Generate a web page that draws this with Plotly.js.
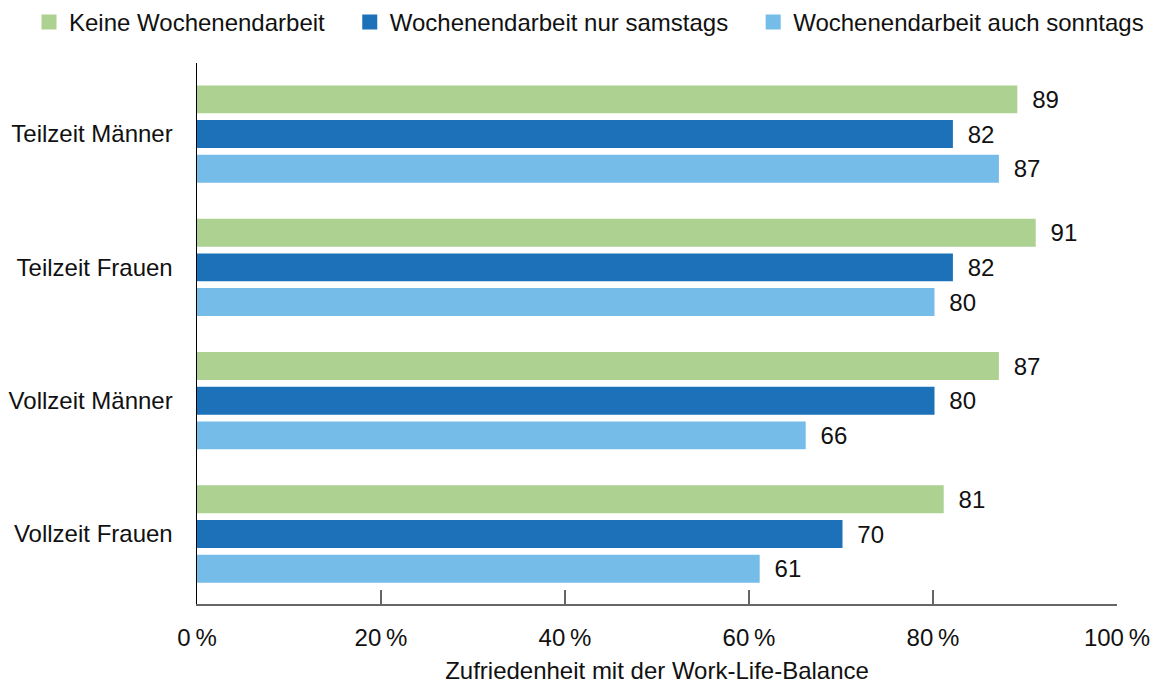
<!DOCTYPE html>
<html>
<head>
<meta charset="utf-8">
<script src="https://cdn.plot.ly/plotly-3.0.1.min.js"></script>
<style>
  html, body { margin: 0; padding: 0; background: #fff; }
  #chart { width: 1157px; height: 686px; }
</style>
</head>
<body>
<div id="chart"></div>
<script>
  var gruppen = ['Teilzeit Männer', 'Teilzeit Frauen', 'Vollzeit Männer', 'Vollzeit Frauen'];
  var keine = [89, 91, 87, 81];       // Keine Wochenendarbeit
  var samstags = [82, 82, 80, 70];    // Wochenendarbeit nur samstags
  var sonntags = [87, 80, 66, 61];    // Wochenendarbeit auch sonntags
  var xTicks = [0, 20, 40, 60, 80, 100];

  var schrift = '"Liberation Sans", Arial, sans-serif';
  var nb = '\u00a0'; // etwas mehr Luft zwischen den Legendeneinträgen

  function balken(name, werte, farbe) {
    return {
      type: 'bar',
      orientation: 'h',
      name: name,
      y: gruppen,
      x: werte,
      // Rand in gleicher Farbe -> größere Legendenquadrate
      marker: {color: farbe, line: {color: farbe, width: 3}},
      text: werte.map(function (v) { return nb + nb + v; }),
      textposition: 'outside',
      constraintext: 'none',
      cliponaxis: false,
      textfont: {family: schrift, size: 24, color: '#111'},
      hoverinfo: 'x+name'
    };
  }

  var data = [
    balken('Keine Wochenendarbeit' + nb + nb + nb, keine, '#ADD191'),
    balken('Wochenendarbeit nur samstags' + nb + nb + nb, samstags, '#1D71B8'),
    balken('Wochenendarbeit auch sonntags', sonntags, '#75BDE8')
  ];

  var layout = {
    width: 1157,
    height: 686,
    margin: {l: 197, r: 40, t: 63, b: 82, autoexpand: false},
    paper_bgcolor: '#fff',
    plot_bgcolor: '#fff',
    font: {family: schrift, size: 24, color: '#111'},
    barmode: 'group',
    bargap: 0.22,
    bargroupgap: 0.28,
    showlegend: true,
    legend: {
      orientation: 'h',
      xref: 'paper', x: -0.1826, xanchor: 'left',
      yref: 'paper', y: 1.1165, yanchor: 'top',
      font: {family: schrift, size: 24, color: '#111'},
      traceorder: 'normal'
    },
    xaxis: {
      range: [0, 100],
      tickvals: xTicks,
      ticktext: xTicks.map(function (v) { return v + '\u2009%'; }),
      ticks: 'inside',
      ticklen: 14,
      tickcolor: '#666',
      tickwidth: 1.5,
      showline: true,
      linecolor: '#666',
      linewidth: 1.5,
      showgrid: false,
      zeroline: false,
      ticklabelstandoff: 12,
      title: {text: 'Zufriedenheit mit der Work-Life-Balance', font: {size: 24}, standoff: 12}
    },
    yaxis: {
      type: 'category',
      categoryorder: 'array',
      categoryarray: gruppen,
      range: [3.525, -0.533],
      showline: true,
      linecolor: '#000',
      linewidth: 1.5,
      ticks: '',
      showgrid: false,
      zeroline: false,
      ticklabelstandoff: 18
    }
  };

  Plotly.newPlot('chart', data, layout, {displayModeBar: false, staticPlot: true});
</script>
</body>
</html>
